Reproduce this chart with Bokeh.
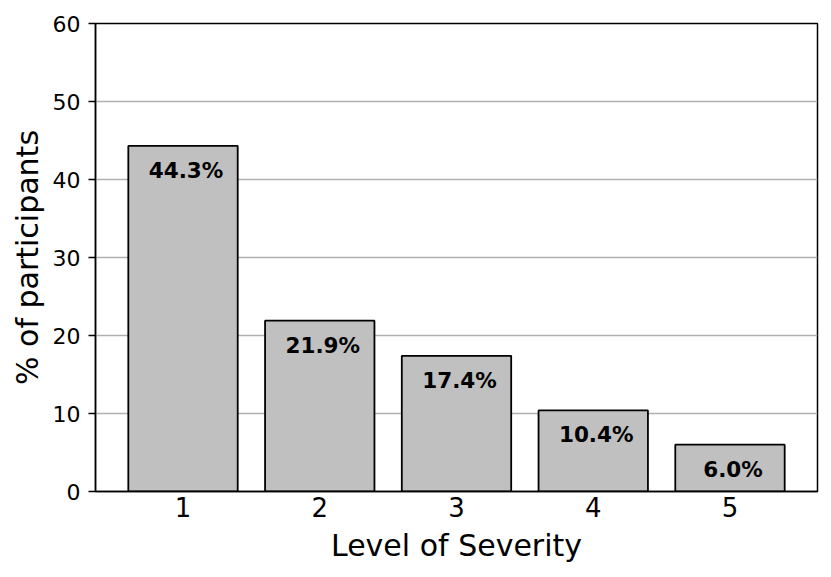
from bokeh.plotting import figure
from bokeh.models import Range1d, FixedTicker, ColumnDataSource
from bokeh.core.properties import value
from bokeh.embed import file_html
from bokeh.resources import INLINE

levels = [1, 2, 3, 4, 5]
percents = [44.3, 21.9, 17.4, 10.4, 6.0]
labels = ["44.3%", "21.9%", "17.4%", "10.4%", "6.0%"]
y_ticks = [0, 10, 20, 30, 40, 50, 60]

FONT = "DejaVu Sans"

src = ColumnDataSource(dict(
    x=levels,
    top=percents,
    label=labels,
    ly=[v - 3.15 for v in percents],
))

p = figure(width=823, height=569, output_backend="svg", toolbar_location=None,
           x_range=Range1d(0.36, 5.64), y_range=Range1d(0, 60),
           min_border_left=95, min_border_right=6, min_border_top=23, min_border_bottom=78)

p.vbar(x="x", top="top", width=0.8, source=src, fill_color="#c0c0c0",
       line_color="black", line_width=1.8)
p.text(x="x", y="ly", text="label", source=src, text_align="center",
       text_baseline="middle", text_font=value(FONT), text_font_size="21.5px",
       text_font_style="bold", text_color="black", x_offset=3)

p.xgrid.visible = False
p.ygrid.grid_line_color = "#b0b0b0"
p.ygrid.grid_line_width = 1.5
p.ygrid.ticker = FixedTicker(ticks=y_ticks)

p.outline_line_color = "black"
p.outline_line_width = 1.5
p.outline_line_alpha = 1.0

p.xaxis.ticker = FixedTicker(ticks=levels)
p.yaxis.ticker = FixedTicker(ticks=y_ticks)
for ax in (p.xaxis, p.yaxis):
    ax.axis_line_color = "black"
    ax.axis_line_width = 1.5
    ax.minor_tick_line_color = None
    ax.major_tick_in = 0
    ax.major_label_text_font = FONT
    ax.axis_label_text_font = FONT
    ax.axis_label_text_font_style = "normal"
    ax.axis_label_text_color = "black"
    ax.major_label_text_color = "black"
    ax.axis_label_text_font_size = "30px"

p.xaxis.major_tick_out = 0
p.xaxis.major_label_text_font_size = "26px"
p.xaxis.major_label_standoff = 5
p.xaxis.axis_label = "Level of Severity"
p.xaxis.axis_label_standoff = 8

p.yaxis.major_tick_out = 7
p.yaxis.major_tick_line_color = "black"
p.yaxis.major_tick_line_width = 1.5
p.yaxis.major_label_text_font_size = "22px"
p.yaxis.major_label_standoff = 8
p.yaxis.axis_label = "% of participants"
p.yaxis.axis_label_standoff = 5

open("out.html", "w").write(file_html(p, INLINE))
